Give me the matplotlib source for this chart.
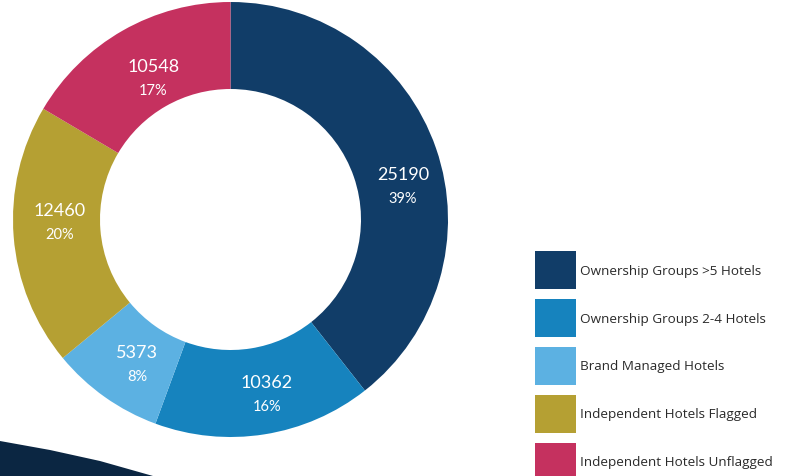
import numpy as np
import matplotlib
matplotlib.use("Agg")
import matplotlib.pyplot as plt
from matplotlib.patches import Rectangle, Polygon

# data
categories = ["Ownership Groups >5 Hotels", "Ownership Groups 2-4 Hotels",
              "Brand Managed Hotels", "Independent Hotels Flagged",
              "Independent Hotels Unflagged"]
values = [25190, 10362, 5373, 12460, 10548]
pct_labels = ["39%", "16%", "8%", "20%", "17%"]
colors = ["#113d68", "#1683be", "#5cb1e2", "#b5a033", "#c5315f"]

W, H = 786, 477
fig = plt.figure(figsize=(W / 100, H / 100), dpi=100)
fig.patch.set_facecolor("white")


def px(x, y):
    # pixel (from top-left) -> figure fraction
    return x / W, 1 - y / H


# decorative swoosh bottom-left
curve = [(0, 442), (50, 451), (100, 462), (153, 477), (0, 477)]
fig.patches.append(Polygon([px(x, y) for x, y in curve], closed=True,
                           transform=fig.transFigure, facecolor="#0b2642",
                           edgecolor="none", zorder=0))

# donut
cx, cy, r = 230.5, 220.5, 217.5
ax = fig.add_axes([(cx - r) / W, (H - cy - r) / H, 2 * r / W, 2 * r / H])
wedges, _ = ax.pie(values, colors=colors, startangle=90, counterclock=False,
                   radius=1, wedgeprops=dict(width=0.4, linewidth=0))
ax.set_xlim(-1, 1)
ax.set_ylim(-1, 1)
ax.axis("off")

# small angle / radius tweaks so labels sit where the original has them
nudge = [-8, 2.8, 2.4, -3.5, -1]
lab_r = [0.808, 0.82, 0.79, 0.784, 0.74]
for w, v, p, d, rr in zip(wedges, values, pct_labels, nudge, lab_r):
    ang = np.deg2rad((w.theta1 + w.theta2) / 2 + d)
    x, y = rr * np.cos(ang), rr * np.sin(ang)
    ax.text(x, y + 0.055, str(v), color="white", fontsize=13,
            family="Lato", ha="center", va="center")
    ax.text(x, y - 0.055, p, color="white", fontsize=10.5,
            family="Lato", ha="center", va="center")

# legend
for i, (c, lab) in enumerate(zip(colors, categories)):
    top = 252 + i * 48
    x0, y0 = px(535, top + 38)
    fig.patches.append(Rectangle((x0, y0), 41 / W, 38 / H,
                                 transform=fig.transFigure,
                                 facecolor=c, edgecolor="none"))
    tx, ty = px(580, top + 19)
    fig.text(tx, ty, lab, fontsize=9.7, color="#2a2a2a", family="Open Sans",
             ha="left", va="center")

fig.savefig("out.png", dpi=100)
